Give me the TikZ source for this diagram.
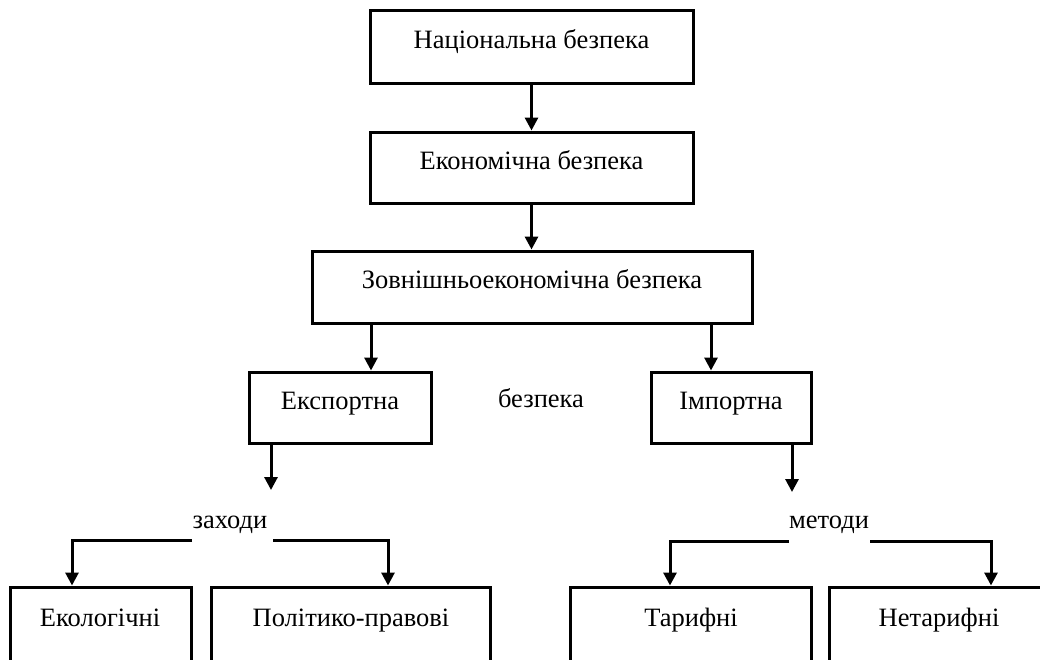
\documentclass[tikz,border=0pt]{standalone}
\usepackage{fontspec}
\setmainfont{Liberation Serif}
\usetikzlibrary{arrows.meta}
\newcommand\diafont{\fontsize{26.5pt}{30pt}\selectfont}
\begin{document}
\begin{tikzpicture}[x=1pt,y=-1pt,
  box/.style={draw,line width=3pt,rectangle,inner sep=0pt,font=\diafont,text height=17pt,text depth=14pt},
  lbl/.style={inner sep=0pt,anchor=base,font=\diafont},
  arr/.style={line width=3pt,-{Triangle[width=13pt,length=13pt]}}]
\useasboundingbox (0,0) rectangle (1040,659);
\clip (0,0) rectangle (1040,659);
\fill[white] (0,0) rectangle (1040,659);
% main boxes
\node[box,minimum width=323pt,minimum height=73pt] (nat) at (531.5,46.5) {Національна безпека};
\node[box,minimum width=323pt,minimum height=71pt] (eco) at (531.5,167.5) {Економічна безпека};
\node[box,minimum width=440pt,minimum height=72pt] (zov) at (532,287) {Зовнішньоекономічна безпека};
\node[box,minimum width=182pt,minimum height=71pt] (exp) at (340,407.5) {Експортна};
\node[box,minimum width=160pt,minimum height=71pt] (imp) at (731,407.5) {Імпортна};
\node[lbl] (bez) at (541,407) {безпека};
% bottom boxes (open at the bottom edge)
\node[box,minimum width=181pt,minimum height=120pt] (ekb) at (100.5,647) {};
\node[box,minimum width=279pt,minimum height=120pt] (plb) at (350.5,647) {};
\node[box,minimum width=241pt,minimum height=120pt] (tab) at (690.5,647) {};
\node[box,minimum width=271pt,minimum height=120pt] (ntb) at (964.5,647) {};
\node[lbl] (ekt) at (100,626) {Екологічні};
\node[lbl] (plt) at (351,626) {Політико-правові};
\node[lbl] (tat) at (691,626) {Тарифні};
\node[lbl] (ntt) at (939,626) {Нетарифні};
\node[lbl] (zax) at (230,528) {заходи};
\node[lbl] (met) at (829,528) {методи};
% connectors
\draw[arr] (nat.south) -- (eco.north);
\draw[arr] (eco.south) -- (eco.south |- zov.north);
\draw[arr] ([xshift=31pt]exp.north |- zov.south) -- ([xshift=31pt]exp.north);
\draw[arr] ([xshift=-20pt]imp.north |- zov.south) -- ([xshift=-20pt]imp.north);
\coordinate (exd) at (271,490);
\coordinate (imd) at (792,492);
\draw[arr] (exd |- exp.south) -- (exd);
\draw[arr] (imd |- imp.south) -- (imd);
\coordinate (zl) at (192,540);
\coordinate (zr) at (273,540);
\coordinate (ml) at (789,541);
\coordinate (mr) at (870,541);
\draw[arr] (zl) -| ([xshift=-28.5pt]ekb.north);
\draw[arr] (zr) -| ([xshift=37.5pt]plb.north);
\draw[arr] (ml) -| ([xshift=-20.5pt]tab.north);
\draw[arr] (mr) -| ([xshift=26.5pt]ntb.north);
\end{tikzpicture}
\end{document}
